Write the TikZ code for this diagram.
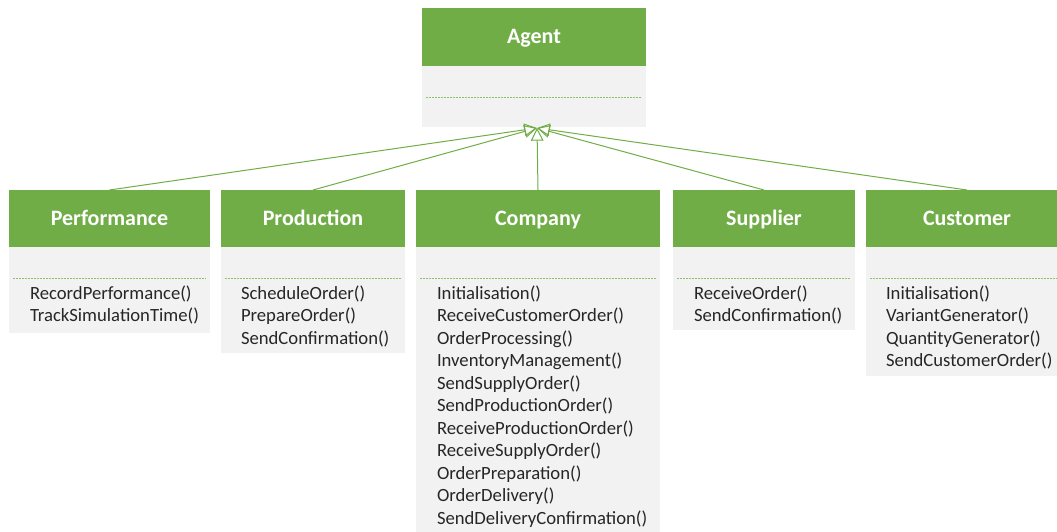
\documentclass[tikz,border=0pt]{standalone}
\usepackage{fontspec}
\setmainfont{Carlito}
\usetikzlibrary{arrows.meta,calc}
\definecolor{hdrgreen}{HTML}{70AD47}
\definecolor{bodygray}{HTML}{F2F2F2}
\definecolor{dotgreen}{HTML}{8CC26A}
\definecolor{methtext}{HTML}{262626}
\tikzset{
  hdr/.style={fill=hdrgreen, draw=none, inner sep=0, outer sep=0, anchor=north,
    minimum height=42.75pt, text=white,
    font=\fontsize{16.5}{19}\selectfont\bfseries, text height=9.75pt, text depth=0pt},
  bodybox/.style={fill=bodygray, draw=none, inner sep=0, outer sep=0, anchor=north},
  meth/.style={inner sep=0, outer sep=0, anchor=base west, text=methtext,
    font=\fontsize{14}{16.9}\selectfont},
  dotsep/.style={draw=dotgreen, line width=0.75pt, dash pattern=on 1.5pt off 0.75pt},
  inherit/.style={draw=hdrgreen, line width=0.75pt,
    -{Triangle[open, length=9.5pt, width=9.5pt, line width=0.75pt]}}
}
\begin{document}
\begin{tikzpicture}[x=0.75pt, y=-0.75pt]
\useasboundingbox (0,0) rectangle (1057,532);
\clip (0,0) rectangle (1057,532);
% Agent
\node[hdr, minimum width=168pt, minimum height=43.5pt] (agenth) at (534,8) {Agent};
\node[bodybox, minimum width=168pt, minimum height=45.75pt] (agentb) at (agenth.south) {};
\draw[dotsep] ($(agentb.north west)+(4,31)$) -- ($(agentb.north east)+(-4,31)$);
% Performance
\node[hdr, minimum width=150.75pt] (perfh) at (109.5,190) {Performance};
\node[bodybox, minimum width=150.75pt, minimum height=64.5pt] (perfb) at (perfh.south) {};
\draw[dotsep] ($(perfb.north west)+(4,31)$) -- ($(perfb.north east)+(-4,31)$);
\foreach \m [count=\i from 0] in {RecordPerformance(), TrackSimulationTime()}
  \node[meth] (perf-\i) at (30,{299+22.5*\i}) {\m};
% Production
\node[hdr, minimum width=138pt] (prodh) at (313,190) {Production};
\node[bodybox, minimum width=138pt, minimum height=79.5pt] (prodb) at (prodh.south) {};
\draw[dotsep] ($(prodb.north west)+(4,31)$) -- ($(prodb.north east)+(-4,31)$);
\foreach \m [count=\i from 0] in {ScheduleOrder(), PrepareOrder(), SendConfirmation()}
  \node[meth] (prod-\i) at (241,{299+22.5*\i}) {\m};
% Company
\node[hdr, minimum width=183pt] (comph) at (538,190) {Company};
\node[bodybox, minimum width=183pt, minimum height=219.75pt] (compb) at (comph.south) {};
\draw[dotsep] ($(compb.north west)+(4,31)$) -- ($(compb.north east)+(-4,31)$);
\foreach \m [count=\i from 0] in {Initialisation(), ReceiveCustomerOrder(), OrderProcessing(),
  InventoryManagement(), SendSupplyOrder(), SendProductionOrder(), ReceiveProductionOrder(),
  ReceiveSupplyOrder(), OrderPreparation(), OrderDelivery(), SendDeliveryConfirmation()}
  \node[meth] (comp-\i) at (437,{299+22.5*\i}) {\m};
% Supplier
\node[hdr, minimum width=136.5pt] (supph) at (764,190) {Supplier};
\node[bodybox, minimum width=136.5pt, minimum height=62.25pt] (suppb) at (supph.south) {};
\draw[dotsep] ($(suppb.north west)+(4,31)$) -- ($(suppb.north east)+(-4,31)$);
\foreach \m [count=\i from 0] in {ReceiveOrder(), SendConfirmation()}
  \node[meth] (supp-\i) at (694,{299+22.5*\i}) {\m};
% Customer
\node[hdr, minimum width=151.5pt] (custh) at (967,190) {Customer};
\node[bodybox, minimum width=151.5pt, minimum height=96.75pt] (custb) at (custh.south) {};
\draw[dotsep] ($(custb.north west)+(4,31)$) -- ($(custb.north east)+(-4,31)$);
\foreach \m [count=\i from 0] in {Initialisation(), VariantGenerator(), QuantityGenerator(), SendCustomerOrder()}
  \node[meth] (cust-\i) at (886,{299+22.5*\i}) {\m};
% Inheritance connectors
\coordinate (tip) at (537,128);
\draw[inherit] (perfh.north) -- (tip);
\draw[inherit] (prodh.north) -- (tip);
\draw[inherit] (comph.north) -- (tip);
\draw[inherit] (supph.north) -- (tip);
\draw[inherit] (custh.north) -- (tip);
\end{tikzpicture}
\end{document}
